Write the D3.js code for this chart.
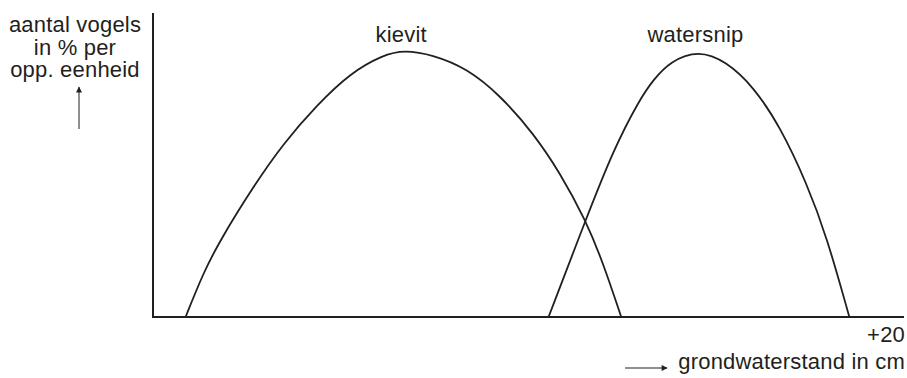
<!DOCTYPE html>
<html>
<head>
<meta charset="utf-8">
<script src="https://cdn.jsdelivr.net/npm/d3@7"></script>
<style>
  html, body { margin: 0; padding: 0; background: #fff; }
  svg { display: block; }
  text { font-family: "Liberation Sans", Arial, sans-serif; font-size: 22px; fill: #231f20; letter-spacing: 0.2px; }
</style>
</head>
<body>
<div id="chart"></div>
<script>
// grondwaterstand (cm) vs aantal vogels (% per opp. eenheid)
var kievitX = [-123.5, -120.0, -116.6, -110.0, -104.0, -97.3, -90.7, -84.1, -79.9, -74.1, -67.4, -60.8, -54.1, -48.8, -43.7, -40.2, -36.6];
var kievitY = [0, 14.4, 25.3, 42.9, 57.1, 69.7, 80.2, 86.2, 87.8, 86.2, 81.8, 73.0, 60.4, 47.4, 31.9, 17.7, 0];

var watersnipX = [-51.1, -43.7, -38.2, -33.0, -30.2, -26.9, -21.2, -15.6, -10.25, -4.9, 0.4, 4.4, 8.9];
var watersnipY = [0, 31.9, 54.9, 71.4, 78.0, 84.0, 87.8, 84.0, 75.8, 62.6, 44.0, 26.4, 0];

var seriesNames = ['kievit', 'watersnip'];
var xDomain = [-130, 20];
var yDomain = [0, 100];
var xTickValues = [20];
var yLabelLines = ['aantal vogels', 'in % per', 'opp. eenheid'];
var xLabel = 'grondwaterstand in cm';

var W = 907, H = 378;
var ink = '#231f20';

var svg = d3.select('#chart').append('svg')
    .attr('width', W).attr('height', H);

var x = d3.scaleLinear().domain(xDomain).range([153, 905]);
var y = d3.scaleLinear().domain(yDomain).range([317, 13]);

var series = [
    { name: seriesNames[0], pts: d3.zip(kievitX, kievitY) },
    { name: seriesNames[1], pts: d3.zip(watersnipX, watersnipY) }
];

// basis spline smooths out the reading noise in the sampled points
var line = d3.line()
    .x(function (d) { return x(d[0]); })
    .y(function (d) { return y(d[1]); })
    .curve(d3.curveBasis);

svg.selectAll('path.curve').data(series).join('path')
    .attr('class', 'curve')
    .attr('d', function (s) { return line(s.pts); })
    .attr('fill', 'none')
    .attr('stroke', ink)
    .attr('stroke-width', 1.8);

// labels above each peak
svg.selectAll('text.name').data(series).join('text')
    .attr('class', 'name')
    .attr('x', function (s) {
        var top = s.pts.reduce(function (a, b) { return b[1] > a[1] ? b : a; });
        return x(top[0]) - 3;
    })
    .attr('y', 42)
    .attr('text-anchor', 'middle')
    .text(function (s) { return s.name; });

// axes: plain lines, only the +20 tick label
svg.append('line')
    .attr('x1', x(xDomain[0])).attr('x2', x(xDomain[0]))
    .attr('y1', y(yDomain[1])).attr('y2', y(0) + 1)
    .attr('stroke', ink).attr('stroke-width', 2);
svg.append('line')
    .attr('x1', x(xDomain[0]) - 1).attr('x2', x(xDomain[1]) - 1)
    .attr('y1', y(0)).attr('y2', y(0))
    .attr('stroke', ink).attr('stroke-width', 2);

svg.selectAll('text.xtick').data(xTickValues).join('text')
    .attr('class', 'xtick')
    .attr('x', function (d) { return x(d); })
    .attr('y', 342)
    .attr('text-anchor', 'end')
    .text(function (d) { return '+' + d; });

// y title with upward arrow
svg.append('text')
    .attr('text-anchor', 'middle')
    .selectAll('tspan').data(yLabelLines).join('tspan')
    .attr('x', 75)
    .attr('y', function (d, i) { return 32 + i * 22.5; })
    .text(function (d) { return d; });

var defs = svg.append('defs');
defs.append('marker')
    .attr('id', 'head')
    .attr('viewBox', '0 0 10 10')
    .attr('refX', 9).attr('refY', 5)
    .attr('markerWidth', 10).attr('markerHeight', 6)
    .attr('markerUnits', 'userSpaceOnUse')
    .attr('orient', 'auto')
    .append('path').attr('d', 'M0,0L10,5L0,10z').attr('fill', ink);

svg.append('line')
    .attr('x1', 79).attr('x2', 79)
    .attr('y1', 129).attr('y2', 87)
    .attr('stroke', '#444').attr('stroke-width', 1.2)
    .attr('marker-end', 'url(#head)');

// x title with rightward arrow
svg.append('line')
    .attr('x1', 625).attr('x2', 667)
    .attr('y1', 368).attr('y2', 368)
    .attr('stroke', ink).attr('stroke-width', 1.2)
    .attr('marker-end', 'url(#head)');

svg.append('text')
    .attr('x', 905)
    .attr('y', 369)
    .attr('text-anchor', 'end')
    .text(xLabel);
</script>
</body>
</html>
